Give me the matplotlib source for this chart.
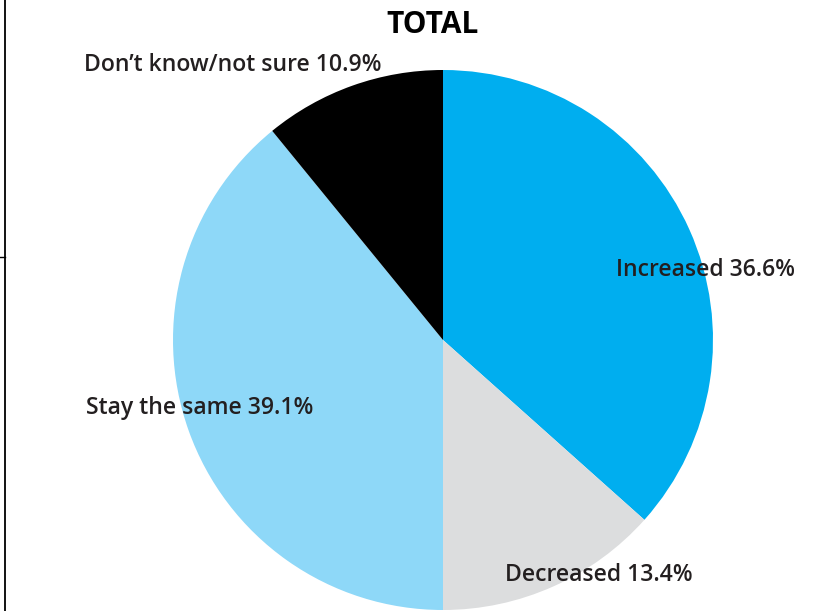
import matplotlib
matplotlib.use("Agg")
import matplotlib.pyplot as plt
from matplotlib.lines import Line2D

categories = ["Increased", "Decreased", "Stay the same", "Don\u2019t know/not sure"]
values = [36.6, 13.4, 39.1, 10.9]
colors = ["#00AEEF", "#DCDDDE", "#8ED8F8", "#000000"]
title = "TOTAL"

W, H = 822, 611
fig = plt.figure(figsize=(W / 100, H / 100), dpi=100)
fig.patch.set_facecolor("white")

cx, cy, r = 443, 340, 270
ax = fig.add_axes([(cx - r) / W, (H - cy - r) / H, 2 * r / W, 2 * r / H])
ax.pie(values, colors=colors, startangle=90, counterclock=False,
       wedgeprops=dict(linewidth=0))
ax.set_xlim(-1, 1)
ax.set_ylim(-1, 1)
ax.set_aspect("equal")
ax.axis("off")

font = "Open Sans"
label_pos = [(705, 270), (599, 575), (200, 408), (233, 65)]
for cat, val, (px, py) in zip(categories, values, label_pos):
    fig.text(px / W, 1 - py / H, f"{cat} {val:.1f}%", ha="center", va="center",
             fontsize=16.6, fontweight="semibold", family=font, color="#231F20")

fig.text(433 / W, 1 - 25 / H, title, ha="center", va="center", fontsize=21.5,
         fontweight="bold", family=font, color="#000000")

# left frame line
fig.add_artist(Line2D([4.5 / W, 4.5 / W], [0, 1], color="black", lw=1.3,
                      transform=fig.transFigure))
fig.add_artist(Line2D([0, 4.5 / W], [1 - 257 / H, 1 - 257 / H], color="black",
                      lw=1.0, transform=fig.transFigure))

fig.savefig("out.png", dpi=100)
